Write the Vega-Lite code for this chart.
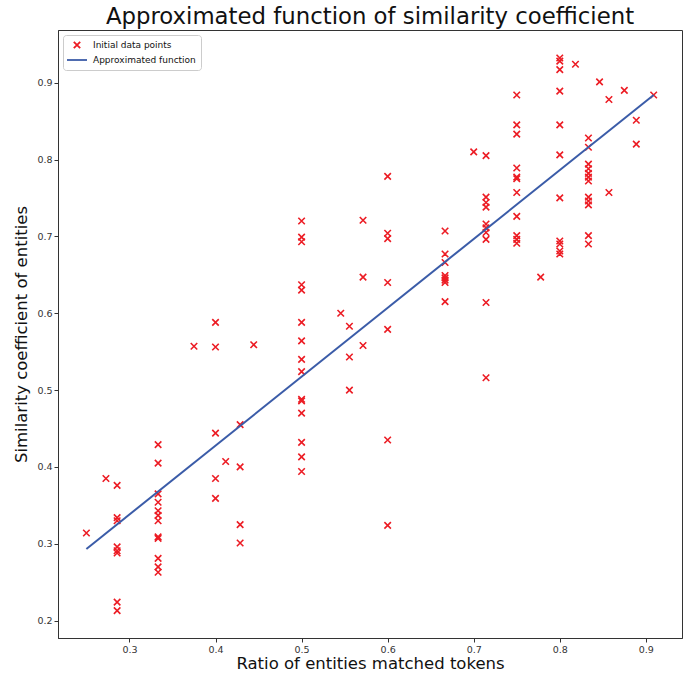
{
  "$schema": "https://vega.github.io/schema/vega-lite/v6.json",
  "width": 624,
  "height": 608,
  "autosize": {"type": "none"},
  "padding": {"left": 58, "top": 30, "right": 8, "bottom": 37},
  "background": "white",
  "title": {
    "text": "Approximated function of similarity coefficient",
    "font": "DejaVu Sans",
    "fontSize": 22.8,
    "fontWeight": "normal",
    "color": "#111111",
    "anchor": "middle",
    "offset": 1
  },
  "config": {
    "view": {"stroke": "#333333", "strokeWidth": 1},
    "axis": {
      "grid": false,
      "domainColor": "#333333",
      "tickColor": "#333333",
      "tickSize": 4,
      "labelFont": "DejaVu Sans",
      "labelFontSize": 9.5,
      "labelColor": "#333333",
      "labelPadding": 2,
      "titleFont": "DejaVu Sans",
      "titleFontSize": 16.5,
      "titleFontWeight": "normal",
      "titleColor": "#111111"
    },
    "legend": {
      "orient": "top-left",
      "offset": 5,
      "padding": 5,
      "fillColor": "white",
      "strokeColor": "#cccccc",
      "cornerRadius": 3,
      "labelFont": "DejaVu Sans",
      "labelFontSize": 9,
      "labelColor": "#111111",
      "symbolSize": 64,
      "symbolStrokeWidth": 1.8,
      "symbolOffset": 4,
      "rowPadding": 3,
      "labelOffset": 11
    }
  },
  "datasets": {
    "points": [
      {"ratio": 0.25, "similarity": 0.314},
      {"ratio": 0.2727, "similarity": 0.385},
      {"ratio": 0.2857, "similarity": 0.376},
      {"ratio": 0.2857, "similarity": 0.334},
      {"ratio": 0.2857, "similarity": 0.330},
      {"ratio": 0.2857, "similarity": 0.296},
      {"ratio": 0.2857, "similarity": 0.291},
      {"ratio": 0.2857, "similarity": 0.288},
      {"ratio": 0.2857, "similarity": 0.224},
      {"ratio": 0.2857, "similarity": 0.213},
      {"ratio": 0.3333, "similarity": 0.429},
      {"ratio": 0.3333, "similarity": 0.405},
      {"ratio": 0.3333, "similarity": 0.365},
      {"ratio": 0.3333, "similarity": 0.354},
      {"ratio": 0.3333, "similarity": 0.343},
      {"ratio": 0.3333, "similarity": 0.337},
      {"ratio": 0.3333, "similarity": 0.330},
      {"ratio": 0.3333, "similarity": 0.309},
      {"ratio": 0.3333, "similarity": 0.307},
      {"ratio": 0.3333, "similarity": 0.281},
      {"ratio": 0.3333, "similarity": 0.270},
      {"ratio": 0.3333, "similarity": 0.263},
      {"ratio": 0.375, "similarity": 0.557},
      {"ratio": 0.4, "similarity": 0.588},
      {"ratio": 0.4, "similarity": 0.556},
      {"ratio": 0.4, "similarity": 0.444},
      {"ratio": 0.4, "similarity": 0.385},
      {"ratio": 0.4, "similarity": 0.359},
      {"ratio": 0.4118, "similarity": 0.407},
      {"ratio": 0.4286, "similarity": 0.455},
      {"ratio": 0.4286, "similarity": 0.400},
      {"ratio": 0.4286, "similarity": 0.325},
      {"ratio": 0.4286, "similarity": 0.301},
      {"ratio": 0.4444, "similarity": 0.559},
      {"ratio": 0.5, "similarity": 0.720},
      {"ratio": 0.5, "similarity": 0.699},
      {"ratio": 0.5, "similarity": 0.693},
      {"ratio": 0.5, "similarity": 0.637},
      {"ratio": 0.5, "similarity": 0.630},
      {"ratio": 0.5, "similarity": 0.588},
      {"ratio": 0.5, "similarity": 0.564},
      {"ratio": 0.5, "similarity": 0.540},
      {"ratio": 0.5, "similarity": 0.524},
      {"ratio": 0.5, "similarity": 0.488},
      {"ratio": 0.5, "similarity": 0.486},
      {"ratio": 0.5, "similarity": 0.470},
      {"ratio": 0.5, "similarity": 0.432},
      {"ratio": 0.5, "similarity": 0.413},
      {"ratio": 0.5, "similarity": 0.394},
      {"ratio": 0.5455, "similarity": 0.600},
      {"ratio": 0.5556, "similarity": 0.583},
      {"ratio": 0.5556, "similarity": 0.543},
      {"ratio": 0.5556, "similarity": 0.500},
      {"ratio": 0.5714, "similarity": 0.721},
      {"ratio": 0.5714, "similarity": 0.647},
      {"ratio": 0.5714, "similarity": 0.558},
      {"ratio": 0.6, "similarity": 0.778},
      {"ratio": 0.6, "similarity": 0.704},
      {"ratio": 0.6, "similarity": 0.697},
      {"ratio": 0.6, "similarity": 0.640},
      {"ratio": 0.6, "similarity": 0.579},
      {"ratio": 0.6, "similarity": 0.435},
      {"ratio": 0.6, "similarity": 0.324},
      {"ratio": 0.6667, "similarity": 0.707},
      {"ratio": 0.6667, "similarity": 0.677},
      {"ratio": 0.6667, "similarity": 0.666},
      {"ratio": 0.6667, "similarity": 0.649},
      {"ratio": 0.6667, "similarity": 0.646},
      {"ratio": 0.6667, "similarity": 0.643},
      {"ratio": 0.6667, "similarity": 0.640},
      {"ratio": 0.6667, "similarity": 0.615},
      {"ratio": 0.7, "similarity": 0.810},
      {"ratio": 0.7143, "similarity": 0.805},
      {"ratio": 0.7143, "similarity": 0.751},
      {"ratio": 0.7143, "similarity": 0.744},
      {"ratio": 0.7143, "similarity": 0.738},
      {"ratio": 0.7143, "similarity": 0.716},
      {"ratio": 0.7143, "similarity": 0.711},
      {"ratio": 0.7143, "similarity": 0.705},
      {"ratio": 0.7143, "similarity": 0.696},
      {"ratio": 0.7143, "similarity": 0.614},
      {"ratio": 0.7143, "similarity": 0.516},
      {"ratio": 0.75, "similarity": 0.884},
      {"ratio": 0.75, "similarity": 0.845},
      {"ratio": 0.75, "similarity": 0.833},
      {"ratio": 0.75, "similarity": 0.789},
      {"ratio": 0.75, "similarity": 0.777},
      {"ratio": 0.75, "similarity": 0.775},
      {"ratio": 0.75, "similarity": 0.757},
      {"ratio": 0.75, "similarity": 0.726},
      {"ratio": 0.75, "similarity": 0.701},
      {"ratio": 0.75, "similarity": 0.696},
      {"ratio": 0.75, "similarity": 0.691},
      {"ratio": 0.7778, "similarity": 0.647},
      {"ratio": 0.8, "similarity": 0.932},
      {"ratio": 0.8, "similarity": 0.928},
      {"ratio": 0.8, "similarity": 0.917},
      {"ratio": 0.8, "similarity": 0.889},
      {"ratio": 0.8, "similarity": 0.845},
      {"ratio": 0.8, "similarity": 0.806},
      {"ratio": 0.8, "similarity": 0.750},
      {"ratio": 0.8, "similarity": 0.694},
      {"ratio": 0.8, "similarity": 0.690},
      {"ratio": 0.8, "similarity": 0.681},
      {"ratio": 0.8, "similarity": 0.677},
      {"ratio": 0.8182, "similarity": 0.924},
      {"ratio": 0.8333, "similarity": 0.828},
      {"ratio": 0.8333, "similarity": 0.816},
      {"ratio": 0.8333, "similarity": 0.794},
      {"ratio": 0.8333, "similarity": 0.788},
      {"ratio": 0.8333, "similarity": 0.782},
      {"ratio": 0.8333, "similarity": 0.777},
      {"ratio": 0.8333, "similarity": 0.772},
      {"ratio": 0.8333, "similarity": 0.751},
      {"ratio": 0.8333, "similarity": 0.746},
      {"ratio": 0.8333, "similarity": 0.741},
      {"ratio": 0.8333, "similarity": 0.701},
      {"ratio": 0.8333, "similarity": 0.690},
      {"ratio": 0.8462, "similarity": 0.901},
      {"ratio": 0.8571, "similarity": 0.878},
      {"ratio": 0.8571, "similarity": 0.757},
      {"ratio": 0.875, "similarity": 0.890},
      {"ratio": 0.8889, "similarity": 0.851},
      {"ratio": 0.8889, "similarity": 0.820},
      {"ratio": 0.9091, "similarity": 0.884}
    ],
    "fit": [
      {"ratio": 0.25, "similarity": 0.2933},
      {"ratio": 0.9091, "similarity": 0.884}
    ]
  },
  "layer": [
    {
      "data": {"name": "points"},
      "mark": {"type": "point", "filled": false, "size": 66, "strokeWidth": 1.6, "opacity": 1},
      "encoding": {
        "x": {
          "field": "ratio",
          "type": "quantitative",
          "scale": {"domain": [0.217, 0.942], "nice": false, "zero": false},
          "axis": {"values": [0.3, 0.4, 0.5, 0.6, 0.7, 0.8, 0.9], "format": ".1f", "title": "Ratio of entities matched tokens", "titlePadding": 2}
        },
        "y": {
          "field": "similarity",
          "type": "quantitative",
          "scale": {"domain": [0.1774, 0.9685], "nice": false, "zero": false},
          "axis": {"values": [0.2, 0.3, 0.4, 0.5, 0.6, 0.7, 0.8, 0.9], "format": ".1f", "title": "Similarity coefficient of entities", "titlePadding": 7}
        },
        "color": {
          "datum": "Initial data points",
          "type": "nominal",
          "scale": {"domain": ["Initial data points", "Approximated function"], "range": ["#ec1c24", "#3b5ca8"]},
          "legend": {"title": null}
        },
        "shape": {
          "datum": "Initial data points",
          "type": "nominal",
          "scale": {"domain": ["Initial data points", "Approximated function"], "range": ["M-0.8,-0.8L0.8,0.8M-0.8,0.8L0.8,-0.8", "M-2.5,0L2.5,0"]},
          "legend": {"title": null}
        }
      }
    },
    {
      "data": {"name": "fit"},
      "mark": {"type": "line", "strokeWidth": 2},
      "encoding": {
        "x": {"field": "ratio", "type": "quantitative"},
        "y": {"field": "similarity", "type": "quantitative"},
        "color": {"datum": "Approximated function", "type": "nominal"}
      }
    }
  ]
}
